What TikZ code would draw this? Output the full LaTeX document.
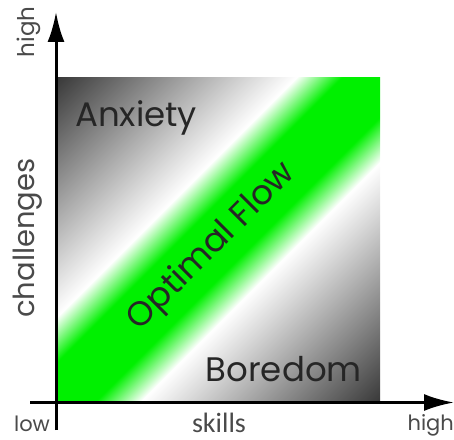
\documentclass[tikz,border=0pt]{standalone}
\usepackage{fontspec}
\setmainfont{Poppins}
\newfontfamily\skillsfont{Carlito}
\usetikzlibrary{arrows.meta}
\usetikzlibrary{positioning}

\definecolor{cornergray}{HTML}{383838}
\definecolor{flowgreen}{HTML}{00F000}
\definecolor{labelgray}{HTML}{4A4A4A}

\pgfdeclarehorizontalshading{flowband}{100bp}{%
  color(0bp)=(cornergray); color(37bp)=(white); color(44bp)=(flowgreen);
  color(56bp)=(flowgreen); color(63bp)=(white); color(100bp)=(cornergray)}

\begin{document}
\begin{tikzpicture}[
    x=1pt, y=1pt,
    axis/.style={line width=3pt, -{Latex[length=30pt,width=17pt]}},
    zone/.style={font=\fontsize{34}{34}\selectfont, text=black!85, inner sep=0pt},
    tick/.style={font=\fontsize{21}{21}\selectfont, text=labelgray, inner sep=0pt},
  ]
  \useasboundingbox (0,0) rectangle (454,439);

  % the flow square, shading laid corner to corner along the anti-diagonal
  \begin{scope}
    \clip (56,37) rectangle (380,361);
    \pgftransformshift{\pgfpoint{218pt}{199pt}}
    \pgftransformrotate{-45}
    \pgftransformxscale{4.565}
    \pgftransformyscale{4.8}
    \pgflowlevelsynccm
    \pgfuseshading{flowband}
  \end{scope}

  \coordinate (ylow) at (56,9);
  \coordinate (ytop) at (56,427);
  \coordinate (xlow) at (30,36.5);
  \coordinate (xtop) at (454,36.5);
  \draw[axis] (ylow) -- (ytop);
  \draw[axis] (xlow) -- (xtop);

  \node[zone, anchor=base west] (anx) at (75,312) {Anxiety};
  \node[zone, anchor=base east] (bor) at (362,58) {Boredom};
  \node[zone, rotate=45] (flow) at (212,192) {Optimal Flow};

  \node[tick, font=\fontsize{29}{29}\selectfont, rotate=90] (chal) at (28,201) {challenges};
  \node[tick, font=\fontsize{23}{23}\selectfont, rotate=90] (yhigh) at (29,407) {high};
  \node[tick] (xlowlbl) at (32,15) {low};
  \node[tick, font=\skillsfont\fontsize{28}{28}\selectfont] (skl) at (219,16) {skills};
  \node[tick, anchor=east] (xhigh) at (454,14) {high};
\end{tikzpicture}
\end{document}
